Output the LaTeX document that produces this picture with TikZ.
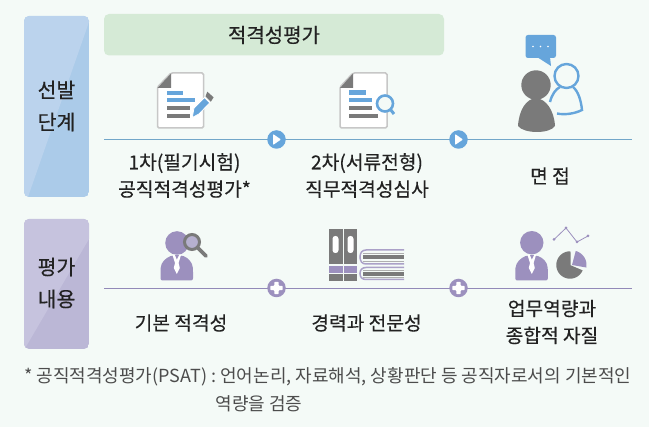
\documentclass[tikz,border=0pt]{standalone}
\usepackage{fontspec}
\setmainfont{Noto Sans CJK KR}
\newfontfamily\krm[FakeBold=0.3]{Noto Sans CJK KR}
\definecolor{bgc}{HTML}{F4FAF7}
\definecolor{greenbox}{HTML}{D5EAD6}
\definecolor{bluedark}{HTML}{ABCBE9}
\definecolor{bluelight}{HTML}{BBD3ED}
\definecolor{purpdark}{HTML}{BBB7D6}
\definecolor{purplight}{HTML}{C6C3DE}
\definecolor{iconblue}{HTML}{66A5DB}
\definecolor{icongray}{HTML}{7A7A7A}
\definecolor{iconpurp}{HTML}{9C90BE}
\definecolor{lineblue}{HTML}{72A6C9}
\definecolor{linepurp}{HTML}{9289B8}
\definecolor{txt}{HTML}{222222}
\begin{document}
\begin{tikzpicture}[x=1pt,y=-1pt,
  lbl/.style={font=\krm\fontsize{19.2}{27}\selectfont,text=txt,align=center,inner sep=0pt},
  side/.style={font=\krm\fontsize{20.5}{32}\selectfont,text=txt,align=center,inner sep=0pt},
  note/.style={font=\fontsize{18}{26}\selectfont,text=black!70,inner sep=0pt},
  hub/.style={circle,minimum size=18.5pt,inner sep=0pt},
  docbox/.style={fill=white,draw=black!22,line width=1.5pt,rounded corners=1.5pt},
  bookline/.style={draw=iconpurp!85,line width=1.5pt}]
\useasboundingbox (0,0) rectangle (649,427);
\fill[bgc] (0,0) rectangle (649,427);

% side panels
\begin{scope}
\clip[rounded corners=5pt] (24,16) rectangle (89,197);
\fill[bluedark] (24,16) rectangle (89,197);
\fill[bluelight] (24,16) -- (89,16) -- (89,22) -- (28,197) -- (24,197) -- cycle;
\end{scope}
\node[side] (p1) at (56.5,106) {선발\\단계};
\begin{scope}
\clip[rounded corners=5pt] (24,219) rectangle (89,349);
\fill[purpdark] (24,219) rectangle (89,349);
\fill[purplight] (24,219) -- (89,219) -- (89,239) -- (27,345) -- (24,349) -- cycle;
\end{scope}
\node[side] (p2) at (56.5,283) {평가\\내용};

% green box
\fill[greenbox,rounded corners=5pt] (104,14) rectangle (444,55.5);
\node[lbl,font=\krm\fontsize{20}{26}\selectfont] (g) at (274,35) {적격성평가};

% lines
\coordinate (a1) at (104,139.5); \coordinate (a2) at (632,139.5);
\coordinate (b1) at (104,288); \coordinate (b2) at (632,288);
\draw[lineblue,line width=0.9pt] (a1) -- (a2);
\draw[linepurp,line width=0.9pt] (b1) -- (b2);

% hubs
\node[hub,fill=iconblue] (h1) at (276.5,139.5) {};
\node[hub,fill=iconblue] (h2) at (458.5,139.5) {};
\node[hub,fill=iconpurp] (h3) at (276.5,288) {};
\node[hub,fill=iconpurp] (h4) at (458.5,288) {};
\foreach \h in {h1,h2}
  \fill[white,rounded corners=0.8pt] ([shift={(-3.5,-5.5)}]\h.center) -- ([shift={(4.5,0)}]\h.center) -- ([shift={(-3.5,5.5)}]\h.center) -- cycle;
\foreach \h in {h3,h4}
  \fill[white,rounded corners=0.8pt] ([shift={(-2.2,-6.2)}]\h.center) -- ([shift={(2.2,-6.2)}]\h.center) -- ([shift={(2.2,-2.2)}]\h.center) -- ([shift={(6.2,-2.2)}]\h.center) -- ([shift={(6.2,2.2)}]\h.center) -- ([shift={(2.2,2.2)}]\h.center) -- ([shift={(2.2,6.2)}]\h.center) -- ([shift={(-2.2,6.2)}]\h.center) -- ([shift={(-2.2,2.2)}]\h.center) -- ([shift={(-6.2,2.2)}]\h.center) -- ([shift={(-6.2,-2.2)}]\h.center) -- ([shift={(-2.2,-2.2)}]\h.center) -- cycle;

% document 1
\draw[docbox] (171,73) -- (203.5,73) -- (203.5,128) -- (157.5,128) -- (157.5,87) -- cycle;
\fill[icongray] (171,73.5) -- (171,88) -- (157.5,88) -- cycle;
\fill[iconblue] (167,91) rectangle (183,95);
\fill[iconblue] (167,98) rectangle (195,102);
\fill[icongray] (167,106) rectangle (190,110);
\fill[icongray] (167,114) rectangle (190,118);
\fill[iconblue,draw=white,line width=0.8pt] (192.3,117.5) -- (194,108) -- (204.5,97.5) -- (209.8,102.8) -- (199,114) -- cycle;
\fill[icongray] (205.5,96.5) -- (207.3,91.7) -- (213.6,97.3) -- (210.8,101.8) -- cycle;

% document 2
\draw[docbox] (353,73) -- (387,73) -- (387,128) -- (340,128) -- (340,87) -- cycle;
\fill[icongray] (353,73.5) -- (353,88) -- (340,88) -- cycle;
\fill[iconblue] (349,90) rectangle (366,95);
\fill[iconblue] (349,98) rectangle (372,102);
\fill[icongray] (349,106) rectangle (372,110);
\fill[icongray] (349,114) rectangle (378,118);
\draw[iconblue,line width=2.6pt,fill=bgc] (385,103.5) circle (8);
\draw[iconblue,line width=3pt] (390.5,109.5) -- (394,114);

% interview
\fill[iconblue,rounded corners=2.5pt] (525.5,35) rectangle (556,58);
\fill[iconblue] (537,57) -- (551,66) -- (550,57) -- cycle;
\foreach \x in {533,540.5,548} \fill[white] (\x,46.5) circle (0.9);
\draw[iconblue,line width=2.4pt] (566.5,76) circle (12);
\draw[iconblue,line width=2.4pt] (550,102) .. controls (552,94) and (556,89) .. (560,87);
\draw[iconblue,line width=2.4pt] (573,87) .. controls (578,91) and (581,100) .. (582,110) .. controls (574,114) and (564,115) .. (557,113.5);
\fill[icongray] (536,85) circle (14.7);
\fill[icongray] (518,126) .. controls (519,110) and (526,99) .. (536,98) .. controls (546,99) and (554,110) .. (555,126) .. controls (550,134) and (524,134) .. (518,126) -- cycle;

% person + magnifier
\fill[iconpurp] (177,243) circle (11.8);
\draw[icongray,line width=3pt,fill=bgc!30!iconpurp] (192,242) circle (7.5);
\draw[icongray,line width=3.6pt,line cap=round] (198,248) -- (206,256);
\fill[iconpurp,rounded corners=2pt] (160.5,280.5) -- (160.5,270) .. controls (161,262) and (166,258) .. (172,255.5) -- (182,255.5) .. controls (188,258) and (192.5,262) .. (193,270) -- (193,280.5) -- cycle;
\fill[white] (172.5,255) -- (175,263) -- (173.8,268) -- (176.8,274) -- (179.8,268) -- (178.6,263) -- (181,255) -- cycle;
\fill[iconpurp] (175,255) -- (179,255) -- (176.8,259.5) -- cycle;

% books
\fill[icongray] (329.3,229) rectangle (342.7,264);
\fill[icongray] (344,229) rectangle (357,264);
\fill[white,rounded corners=2.8pt] (332.5,236) rectangle (338.5,253);
\fill[white,rounded corners=2.8pt] (347.5,236) rectangle (353.5,253);
\fill[iconpurp] (329.3,266) rectangle (342.7,273);
\fill[iconpurp] (344,266) rectangle (357,273);
\fill[icongray] (329.3,274.5) rectangle (342.7,281);
\fill[icongray] (344,274.5) rectangle (357,281);
\draw[bookline] (404,250) -- (366,250) .. controls (362,250) and (360,253) .. (360,257) .. controls (360,261) and (362,264) .. (366,264) -- (404,264);
\draw[bookline] (404,267.5) -- (366,267.5) .. controls (362,267.5) and (360,270) .. (360,273.5) .. controls (360,277) and (362,279.5) .. (366,279.5) -- (404,279.5);
\fill[icongray] (363,255.5) rectangle (403.5,259.5);
\fill[icongray!60] (363,253) rectangle (403.5,254);
\fill[icongray!60] (363,261) rectangle (403.5,262);
\fill[icongray] (363,272) rectangle (403.5,276);
\fill[icongray!60] (363,270) rectangle (403.5,271);
\fill[icongray!60] (363,277) rectangle (403.5,278);

% person + chart
\fill[iconpurp] (531.8,242.7) circle (11.7);
\fill[iconpurp,rounded corners=2pt] (515.3,280.5) -- (515.3,270) .. controls (516,262) and (521,258) .. (527,255.5) -- (536.5,255.5) .. controls (543,258) and (547.5,262) .. (547.8,270) -- (547.8,280.5) -- cycle;
\fill[white] (527.5,255) -- (530,263) -- (528.8,268) -- (531.8,274) -- (534.8,268) -- (533.6,263) -- (536,255) -- cycle;
\fill[iconpurp] (530,255) -- (534,255) -- (531.8,259.5) -- cycle;
\draw[iconpurp,line width=0.8pt] (554,239.5) -- (566,228) -- (577,242) -- (588,236);
\foreach \p in {(554,239.5),(566,228),(577,242),(588,236)} \fill[iconpurp] \p circle (1.5);
\fill[icongray] (570.7,265.3) -- plot[domain=-337:-88,samples=40] ({570+13.7*cos(\x)},{265+13.7*sin(\x)}) -- cycle;
\fill[iconpurp] (572,265) -- plot[domain=-75:10,samples=15] ({572+14.5*cos(\x)},{265+14.5*sin(\x)}) -- cycle;

% labels
\node[lbl] (t1) at (184.5,175.5) {1차(필기시험)\\공직적격성평가*};
\node[lbl] (t2) at (367,175.5) {2차(서류전형)\\직무적격성심사};
\node[lbl] (t3) at (550,176) {면 접};
\node[lbl] (t4) at (181,323) {기본 적격성};
\node[lbl] (t5) at (366.5,323) {경력과 전문성};
\node[lbl] (t6) at (552,322) {업무역량과\\종합적 자질};
\node[note,anchor=west] (n1) at (24,377) {* 공직적격성평가(PSAT) : 언어논리, 자료해석, 상황판단 등 공직자로서의 기본적인};
\node[note] (n2) at (259,404) {역량을 검증};
\end{tikzpicture}
\end{document}
